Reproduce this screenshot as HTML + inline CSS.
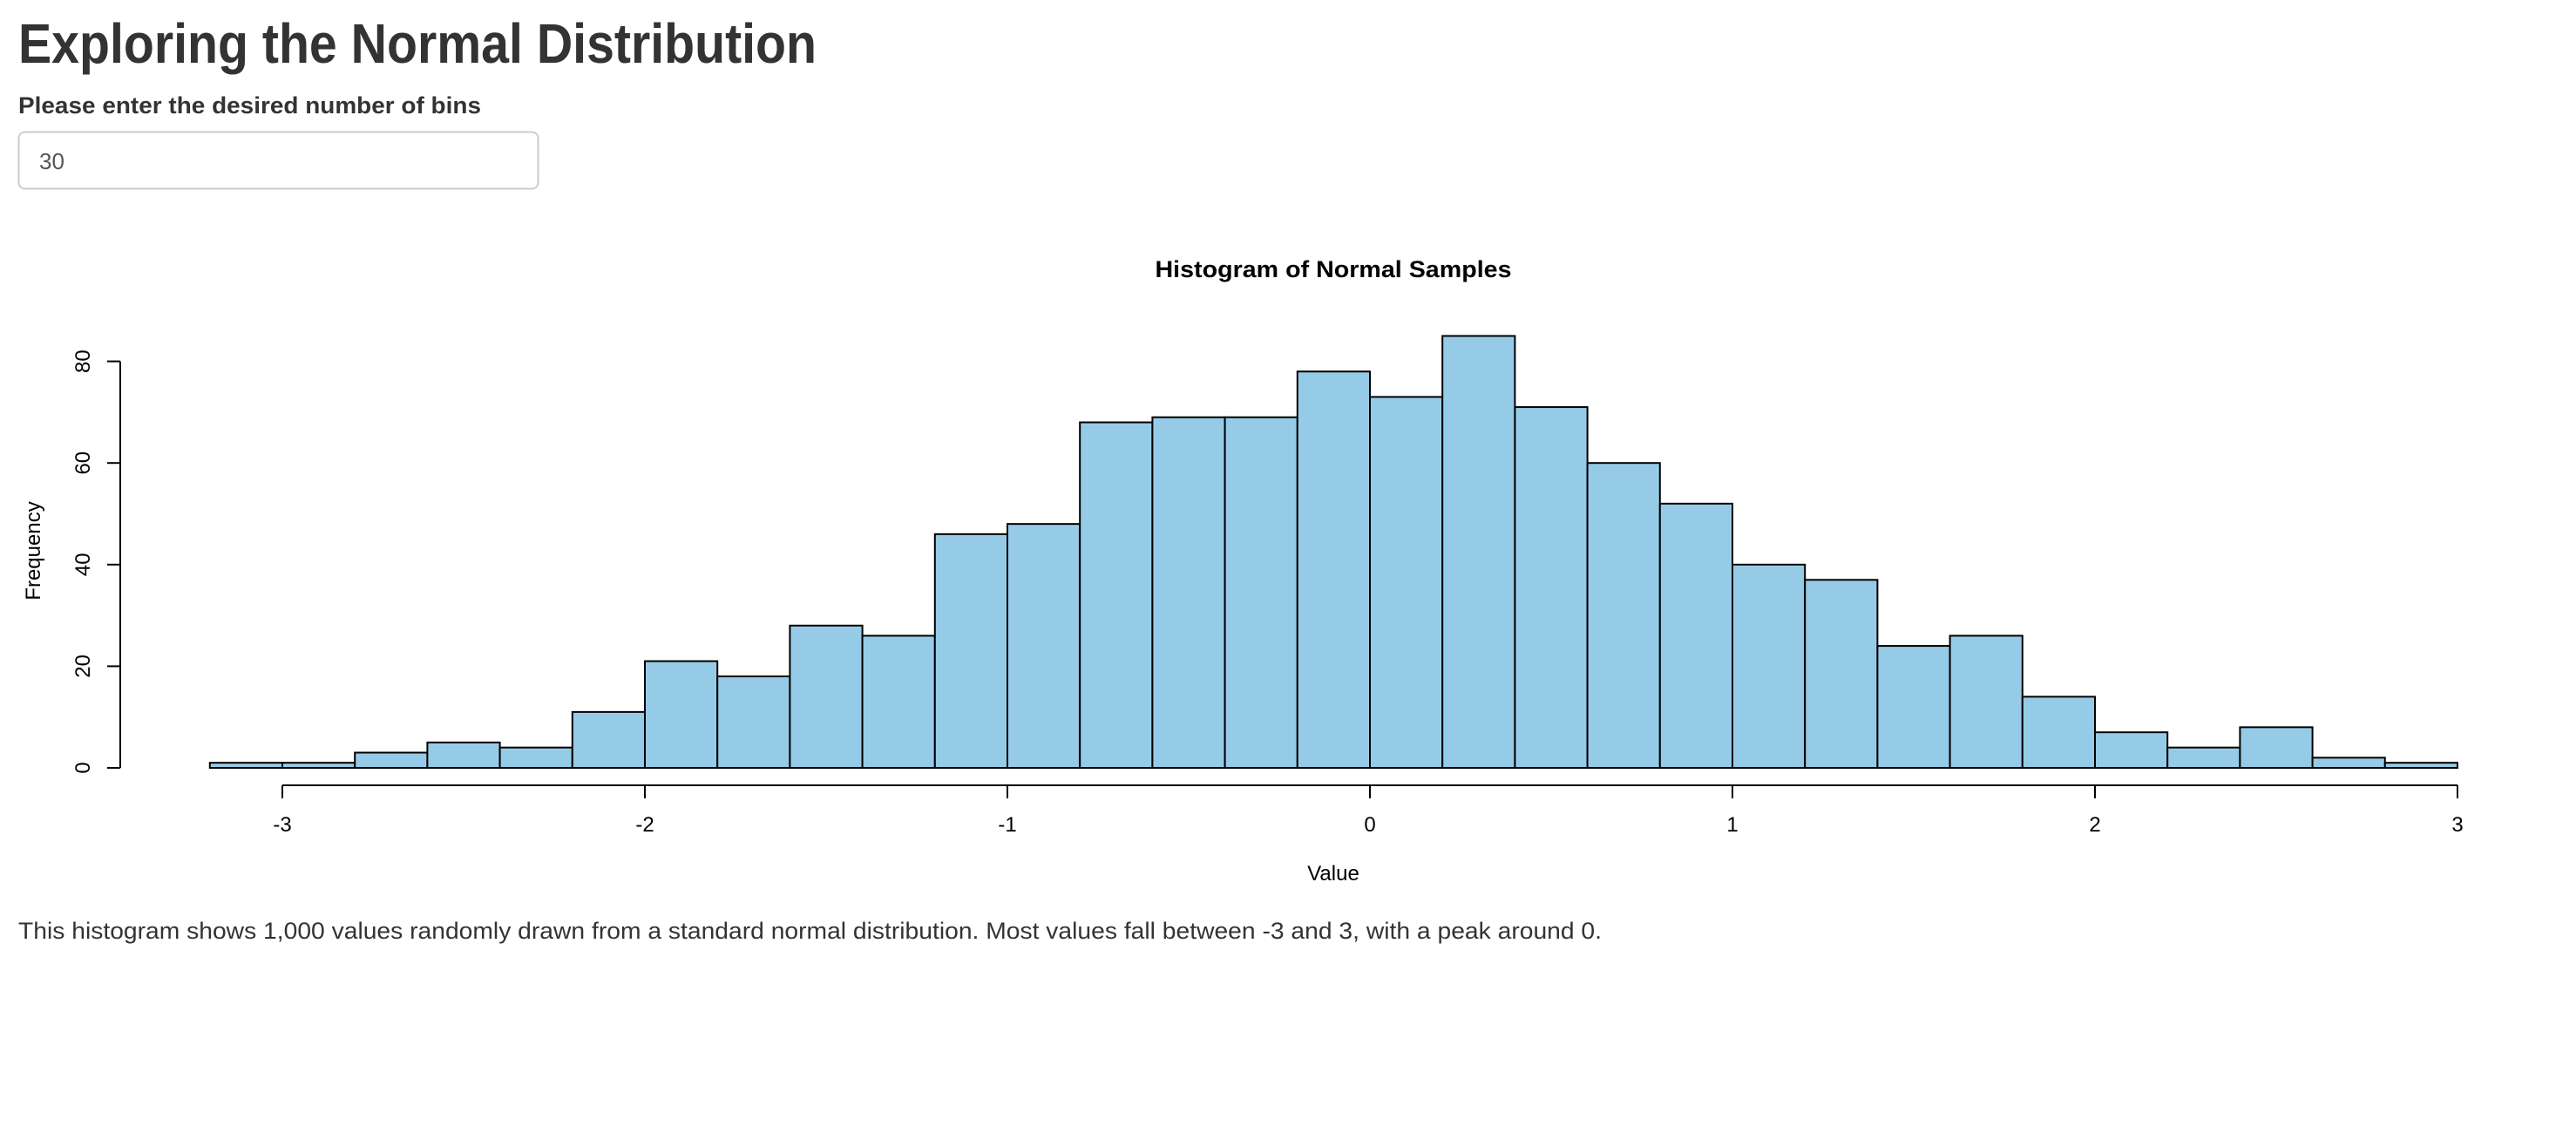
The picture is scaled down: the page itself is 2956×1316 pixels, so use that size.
<!DOCTYPE html>
<html><head><meta charset="utf-8"><style>
html,body{margin:0;padding:0;background:#fff;width:2956px;height:1316px;overflow:hidden}
svg{display:block}
</style></head><body>
<svg id="page" width="2956" height="1316" xmlns="http://www.w3.org/2000/svg" font-family="'Liberation Sans', Arial, sans-serif">
<text x="21" y="72" font-size="64" font-weight="bold" fill="#333" textLength="916" lengthAdjust="spacingAndGlyphs">Exploring the Normal Distribution</text>
<text x="21" y="130" font-size="27" font-weight="bold" fill="#333" textLength="531" lengthAdjust="spacingAndGlyphs">Please enter the desired number of bins</text>
<rect x="21.5" y="151.5" width="596" height="65" rx="7" fill="#fff" stroke="#ccc" stroke-width="2"/>
<text x="45" y="194" font-size="26" fill="#555">30</text>
<text x="1530" y="318" font-size="27" font-weight="bold" text-anchor="middle" fill="#000" textLength="409" lengthAdjust="spacingAndGlyphs">Histogram of Normal Samples</text>
<g id="bars"></g>
<g id="axes"></g>
<text x="1530" y="1010" font-size="24" text-anchor="middle" fill="#000">Value</text>
<text x="0" y="0" font-size="24" text-anchor="middle" fill="#000" transform="translate(46,632) rotate(-90)">Frequency</text>
<text x="21" y="1077" font-size="27" fill="#333" textLength="1817" lengthAdjust="spacingAndGlyphs">This histogram shows 1,000 values randomly drawn from a standard normal distribution. Most values fall between -3 and 3, with a peak around 0.</text>
</svg>
<script>
const binStart = -3.2;
const binWidth = 0.2;
const counts = [1,1,3,5,4,11,21,18,28,26,46,48,68,69,69,78,73,85,71,60,52,40,37,24,26,14,7,4,8,2,1];
const xTicks = [-3,-2,-1,0,1,2,3];
const yTicks = [0,20,40,60,80];
const NS = 'http://www.w3.org/2000/svg';
function xs(v){ return 324 + (v + 3) * 416; }
function ys(v){ return 881 - v * 5.83; }
const bars = document.getElementById('bars');
counts.forEach(function(c, i){
  const x0 = xs(binStart + i * binWidth), x1 = xs(binStart + (i + 1) * binWidth);
  const r = document.createElementNS(NS, 'rect');
  r.setAttribute('x', x0); r.setAttribute('y', ys(c));
  r.setAttribute('width', x1 - x0); r.setAttribute('height', ys(0) - ys(c));
  r.setAttribute('fill', '#96cbe7'); r.setAttribute('stroke', '#000'); r.setAttribute('stroke-width', '2');
  
  
  bars.appendChild(r);
});
const axes = document.getElementById('axes');
function line(x1,y1,x2,y2){
  const l = document.createElementNS(NS, 'line');
  l.setAttribute('x1',x1); l.setAttribute('y1',y1); l.setAttribute('x2',x2); l.setAttribute('y2',y2);
  l.setAttribute('stroke','#000'); l.setAttribute('stroke-width','2');
  axes.appendChild(l); return l;
}
function txt(s,x,y,rot){
  const t = document.createElementNS(NS, 'text');
  t.textContent = s; t.setAttribute('font-size','24'); t.setAttribute('text-anchor','middle');
  if (rot) { t.setAttribute('transform','translate('+x+','+y+') rotate(-90)'); }
  else { t.setAttribute('x',x); t.setAttribute('y',y); }
  axes.appendChild(t); return t;
}
const xl = line(xs(xTicks[0]), 901, xs(xTicks[xTicks.length-1]), 901);


xTicks.forEach(function(v){
  const t = line(xs(v), 901, xs(v), 916);
  
  
  const lb = txt(String(v), xs(v), 954, false);
  
  
});
const yl = line(138, ys(yTicks[0]), 138, ys(yTicks[yTicks.length-1]));


yTicks.forEach(function(v){
  const t = line(123, ys(v), 138, ys(v));
  
  
  const lb = txt(String(v), 103, ys(v), true);
  
  
});
</script>
</body></html>
